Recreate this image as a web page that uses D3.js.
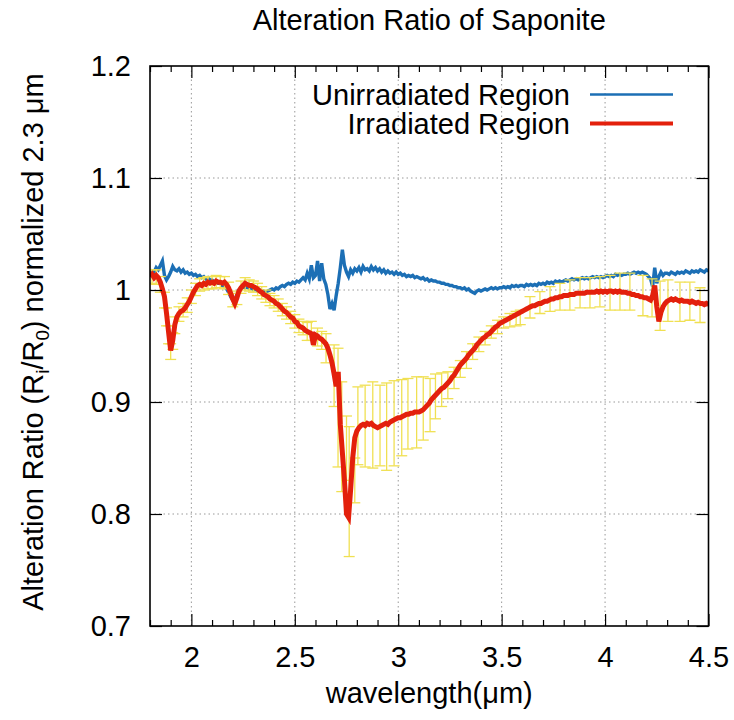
<!DOCTYPE html>
<html><head><meta charset="utf-8">
<script src="https://cdn.jsdelivr.net/npm/d3@7"></script>
<style>body{margin:0;background:#fff} text{font-family:"Liberation Sans",Arial,Helvetica,sans-serif;fill:#000}</style>
</head><body><svg id="chart" width="734" height="720"></svg>
<script>
const wavelength = [
1.80,1.81,1.82,1.83,1.84,1.85,1.86,1.87,1.88,1.89,
1.90,1.91,1.92,1.93,1.94,1.95,1.96,1.97,1.98,1.99,
2.00,2.01,2.02,2.03,2.04,2.05,2.06,2.07,2.08,2.09,
2.10,2.11,2.12,2.13,2.14,2.15,2.16,2.17,2.18,2.19,
2.20,2.21,2.22,2.23,2.24,2.25,2.26,2.27,2.28,2.29,
2.30,2.31,2.32,2.33,2.34,2.35,2.36,2.37,2.38,2.39,
2.40,2.41,2.42,2.43,2.44,2.45,2.46,2.47,2.48,2.49,
2.50,2.51,2.52,2.53,2.54,2.55,2.56,2.57,2.58,2.59,
2.60,2.61,2.62,2.63,2.64,2.65,2.66,2.67,2.68,2.69,
2.70,2.71,2.72,2.73,2.74,2.75,2.76,2.77,2.78,2.79,
2.80,2.81,2.82,2.83,2.84,2.85,2.86,2.87,2.88,2.89,
2.90,2.91,2.92,2.93,2.94,2.95,2.96,2.97,2.98,2.99,
3.00,3.01,3.02,3.03,3.04,3.05,3.06,3.07,3.08,3.09,
3.10,3.11,3.12,3.13,3.14,3.15,3.16,3.17,3.18,3.19,
3.20,3.21,3.22,3.23,3.24,3.25,3.26,3.27,3.28,3.29,
3.30,3.31,3.32,3.33,3.34,3.35,3.36,3.37,3.38,3.39,
3.40,3.41,3.42,3.43,3.44,3.45,3.46,3.47,3.48,3.49,
3.50,3.51,3.52,3.53,3.54,3.55,3.56,3.57,3.58,3.59,
3.60,3.61,3.62,3.63,3.64,3.65,3.66,3.67,3.68,3.69,
3.70,3.71,3.72,3.73,3.74,3.75,3.76,3.77,3.78,3.79,
3.80,3.81,3.82,3.83,3.84,3.85,3.86,3.87,3.88,3.89,
3.90,3.91,3.92,3.93,3.94,3.95,3.96,3.97,3.98,3.99,
4.00,4.01,4.02,4.03,4.04,4.05,4.06,4.07,4.08,4.09,
4.10,4.11,4.12,4.13,4.14,4.15,4.16,4.17,4.18,4.19,
4.20,4.21,4.22,4.23,4.24,4.25,4.26,4.27,4.28,4.29,
4.30,4.31,4.32,4.33,4.34,4.35,4.36,4.37,4.38,4.39,
4.40,4.41,4.42,4.43,4.44,4.45,4.46,4.47,4.48,4.49,
4.50];

const unirradiated = [
1.015,1.017,1.016,1.020,1.018,1.022,1.026,1.013,1.009,1.012,
1.016,1.021,1.018,1.017,1.019,1.016,1.018,1.015,1.016,1.014,
1.015,1.013,1.014,1.012,1.013,1.011,1.012,1.010,1.011,1.009,
1.009,1.007,1.008,1.006,1.006,1.004,1.003,1.001,0.998,0.994,
0.991,0.990,0.996,1.000,1.002,1.003,1.002,1.003,1.001,1.002,
1.000,1.001,0.999,1.000,0.998,0.999,0.998,0.999,1.000,1.001,
1.000,1.002,1.001,1.003,1.004,1.003,1.005,1.006,1.005,1.007,
1.006,1.008,1.007,1.009,1.011,1.009,1.015,1.010,1.022,1.011,
1.013,1.026,1.008,1.024,1.010,1.005,0.996,0.983,0.988,0.982,
0.995,1.006,1.020,1.036,1.022,1.016,1.012,1.018,1.015,1.019,
1.017,1.020,1.016,1.021,1.018,1.019,1.017,1.021,1.018,1.020,
1.017,1.019,1.016,1.018,1.015,1.017,1.015,1.016,1.014,1.016,
1.014,1.015,1.013,1.014,1.012,1.013,1.012,1.013,1.011,1.012,
1.011,1.010,1.011,1.009,1.010,1.008,1.009,1.008,1.008,1.007,
1.007,1.006,1.006,1.005,1.005,1.004,1.004,1.003,1.003,1.002,
1.002,1.001,1.002,1.000,1.001,0.999,0.998,0.997,0.999,1.000,
0.999,1.000,1.001,1.000,1.001,1.002,1.001,1.002,1.001,1.002,
1.002,1.003,1.002,1.003,1.002,1.004,1.003,1.004,1.003,1.004,
1.004,1.003,1.005,1.004,1.005,1.004,1.005,1.004,1.006,1.005,
1.006,1.005,1.007,1.006,1.007,1.006,1.008,1.007,1.008,1.007,
1.008,1.009,1.008,1.009,1.010,1.009,1.010,1.009,1.010,1.011,
1.010,1.011,1.010,1.011,1.012,1.011,1.012,1.011,1.012,1.011,
1.012,1.013,1.012,1.013,1.012,1.014,1.013,1.014,1.013,1.014,
1.014,1.015,1.014,1.015,1.016,1.015,1.016,1.015,1.016,1.015,
1.014,1.012,1.010,1.003,1.020,1.006,1.012,1.016,1.013,1.015,
1.015,1.014,1.016,1.015,1.014,1.016,1.015,1.016,1.015,1.017,
1.016,1.015,1.017,1.016,1.017,1.016,1.018,1.017,1.016,1.018,
1.017];

const irradiated = [
1.012,1.014,1.011,1.013,1.011,1.007,1.001,0.994,0.979,0.962,
0.946,0.955,0.969,0.976,0.979,0.981,0.982,0.984,0.987,0.990,
0.994,0.998,1.001,1.004,1.005,1.004,1.006,1.005,1.007,1.006,
1.007,1.006,1.008,1.007,1.007,1.006,1.007,1.005,1.002,0.997,
0.992,0.988,0.993,0.999,1.002,1.004,1.006,1.005,1.004,1.004,
1.003,1.002,1.001,0.999,0.998,0.996,0.995,0.994,0.992,0.991,
0.990,0.988,0.987,0.985,0.983,0.981,0.980,0.978,0.976,0.975,
0.972,0.971,0.968,0.967,0.966,0.964,0.963,0.962,0.961,0.951,
0.960,0.959,0.957,0.956,0.954,0.952,0.948,0.942,0.935,0.925,
0.914,0.927,0.880,0.855,0.830,0.800,0.797,0.822,0.850,0.868,
0.874,0.877,0.879,0.880,0.879,0.881,0.880,0.881,0.879,0.878,
0.877,0.878,0.879,0.880,0.881,0.880,0.882,0.883,0.884,0.885,
0.886,0.886,0.887,0.888,0.889,0.889,0.890,0.890,0.891,0.891,
0.891,0.892,0.893,0.895,0.897,0.899,0.902,0.904,0.906,0.908,
0.910,0.912,0.913,0.915,0.917,0.919,0.922,0.924,0.927,0.930,
0.933,0.935,0.937,0.939,0.942,0.944,0.946,0.948,0.951,0.953,
0.955,0.957,0.958,0.960,0.961,0.963,0.965,0.967,0.968,0.970,
0.971,0.972,0.973,0.974,0.975,0.976,0.977,0.978,0.979,0.980,
0.981,0.982,0.983,0.984,0.985,0.986,0.986,0.987,0.988,0.988,
0.989,0.990,0.990,0.991,0.992,0.992,0.993,0.993,0.994,0.994,
0.995,0.995,0.995,0.996,0.996,0.996,0.997,0.997,0.997,0.997,
0.997,0.998,0.998,0.998,0.998,0.998,0.999,0.998,0.999,0.998,
0.999,0.998,0.999,0.999,0.998,0.999,0.998,0.999,0.998,0.998,
0.998,0.997,0.997,0.996,0.996,0.995,0.995,0.994,0.994,0.993,
0.993,0.992,0.991,0.995,1.004,0.985,0.972,0.980,0.985,0.988,
0.990,0.991,0.992,0.991,0.992,0.991,0.990,0.991,0.990,0.990,
0.990,0.989,0.990,0.989,0.988,0.989,0.988,0.988,0.987,0.988,
0.987];

const errWavelength = [
1.81,1.83,1.85,1.87,1.88,1.89,1.90,1.91,1.92,1.94,1.96,1.98,
2.00,2.02,2.04,2.06,2.08,2.10,2.12,2.14,2.16,2.18,2.20,2.22,2.24,2.26,2.28,
2.30,2.32,2.34,2.36,2.38,2.40,2.42,2.44,2.46,2.48,2.50,2.52,2.54,2.56,2.58,
2.61,2.63,2.651,2.690,2.709,2.727,2.750,2.763,2.790,
2.805,2.840,2.877,2.912,2.944,2.980,3.017,3.047,3.089,3.121,3.154,
3.18,3.21,3.24,3.27,3.30,3.33,3.36,3.39,3.42,3.45,3.48,3.51,3.54,3.57,3.59,
3.637,3.685,3.734,3.782,3.83,3.879,3.927,3.975,4.024,4.072,4.12,4.183,4.227,
4.266,4.304,4.362,4.41,4.459];
const errLow = [
1.006,1.005,0.998,0.984,0.968,0.952,0.938,0.947,0.961,0.972,0.976,0.980,
0.988,0.995,0.999,1.000,1.001,1.001,1.002,1.002,1.001,0.996,0.985,0.987,0.997,1.000,0.999,
0.998,0.995,0.992,0.989,0.986,0.984,0.981,0.977,0.974,0.970,0.966,0.962,0.960,0.955,0.955,
0.950,0.947,0.935,0.896,0.842,0.820,0.830,0.762,0.810,
0.844,0.842,0.841,0.843,0.839,0.843,0.852,0.858,0.859,0.866,0.8735,
0.885,0.896,0.903,0.912,0.922,0.930,0.938,0.945,0.951,0.957,0.961,0.966,0.967,0.968,0.969,
0.975,0.979,0.981,0.982,0.982,0.984,0.984,0.985,0.982,0.982,0.982,0.977,0.976,
0.964,0.972,0.972,0.973,0.971];
const errHigh = [
1.018,1.018,1.012,0.998,0.984,0.968,0.952,0.962,0.976,0.985,0.988,0.993,
1.000,1.006,1.010,1.011,1.012,1.012,1.013,1.012,1.012,1.007,0.997,0.999,1.008,1.011,1.009,
1.008,1.006,1.003,1.000,0.997,0.995,0.992,0.988,0.985,0.981,0.978,0.974,0.972,0.971,0.972,
0.966,0.963,0.961,0.951,0.948,0.918,0.8875,0.878,0.850,
0.9135,0.915,0.918,0.915,0.917,0.919,0.920,0.921,0.9225,0.9225,0.921,
0.925,0.926,0.927,0.931,0.937,0.945,0.952,0.958,0.963,0.968,0.973,0.976,0.979,0.981,0.982,
0.994,0.9985,1.003,1.006,1.009,1.011,1.011,1.012,1.013,1.015,1.015,1.013,1.010,
1.008,1.009,1.007,1.007,1.002];

const xMajorTicks = [2, 2.5, 3, 3.5, 4, 4.5];
const xTickLabels = ["2", "2.5", "3", "3.5", "4", "4.5"];
const xMinorTicks = [1.8,1.9,2.1,2.2,2.3,2.4,2.6,2.7,2.8,2.9,3.1,3.2,3.3,3.4,3.6,3.7,3.8,3.9,4.1,4.2,4.3,4.4];
const yTicks = [0.7, 0.8, 0.9, 1.0, 1.1, 1.2];
const yTickLabels = ["0.7", "0.8", "0.9", "1", "1.1", "1.2"];
const seriesNames = ["Unirradiated Region", "Irradiated Region"];
const seriesColors = ["#1c6fb5", "#e3200c"];
const errColor = "#f0e052";

const W = 734, H = 720;
const m = {left: 150, top: 66, right: 25.5, bottom: 94};
const iw = W - m.left - m.right, ih = H - m.top - m.bottom;
const FS = 29;

const svg = d3.select("#chart");
const g = svg.append("g").attr("transform", `translate(${m.left},${m.top})`);
const x = d3.scaleLinear().domain([1.8, 4.5]).range([0, iw]);
const y = d3.scaleLinear().domain([0.7, 1.2]).range([ih, 0]);

svg.append("defs").append("clipPath").attr("id", "clip")
  .append("rect").attr("width", iw).attr("height", ih);

// grid
const grid = g.append("g").attr("stroke", "#999").attr("stroke-width", 1).attr("stroke-dasharray", "1.5,3");
grid.selectAll("line.gx").data(xMajorTicks.filter(d => d < 4.5)).join("line")
  .attr("x1", d => x(d)).attr("x2", d => x(d)).attr("y1", 0).attr("y2", ih);
grid.selectAll("line.gy").data(yTicks.filter(d => d > 0.7 && d < 1.2)).join("line")
  .attr("x1", 0).attr("x2", iw).attr("y1", d => y(d)).attr("y2", d => y(d));

const plot = g.append("g").attr("clip-path", "url(#clip)");

const blueData = wavelength.map((w, i) => [w, unirradiated[i]]).filter(d => d[1] !== undefined);
const redData = wavelength.map((w, i) => [w, irradiated[i]]).filter(d => d[1] !== undefined);
const line = d3.line().x(d => x(d[0])).y(d => y(d[1]));

plot.append("path").datum(blueData).attr("d", line)
  .attr("fill", "none").attr("stroke", seriesColors[0]).attr("stroke-width", 3.4).attr("stroke-linejoin", "miter");

// error bars
const errData = errWavelength.map((w, i) => ({w, lo: errLow[i], hi: errHigh[i]}));
const eb = plot.append("g").attr("stroke", errColor).attr("stroke-width", 1.3);
const cap = 5.5;
errData.forEach(d => {
  eb.append("line").attr("x1", x(d.w)).attr("x2", x(d.w)).attr("y1", y(d.lo)).attr("y2", y(d.hi));
  eb.append("line").attr("x1", x(d.w) - cap).attr("x2", x(d.w) + cap).attr("y1", y(d.lo)).attr("y2", y(d.lo));
  eb.append("line").attr("x1", x(d.w) - cap).attr("x2", x(d.w) + cap).attr("y1", y(d.hi)).attr("y2", y(d.hi));
});

plot.append("path").datum(redData).attr("d", line)
  .attr("fill", "none").attr("stroke", seriesColors[1]).attr("stroke-width", 5).attr("stroke-linejoin", "miter");

// axes
function styleAxis(sel) {
  sel.select(".domain").remove();
  sel.selectAll(".tick line").attr("stroke", "#000").attr("stroke-width", 1.2);
  sel.selectAll("text").attr("font-size", FS).attr("fill", "#000")
    .attr("font-family", '"Liberation Sans", Arial, sans-serif');
}
g.append("g").attr("transform", `translate(0,${ih})`)
  .call(d3.axisBottom(x).tickValues(xMajorTicks).tickFormat((d, i) => xTickLabels[i]).tickSizeInner(-12).tickSizeOuter(0).tickPadding(20))
  .call(styleAxis);
g.append("g").attr("transform", `translate(0,${ih})`)
  .call(d3.axisBottom(x).tickValues(xMinorTicks).tickFormat("").tickSizeInner(-6).tickSizeOuter(0))
  .call(styleAxis);
g.append("g")
  .call(d3.axisTop(x).tickValues(xMajorTicks).tickFormat("").tickSizeInner(-12).tickSizeOuter(0))
  .call(styleAxis);
g.append("g")
  .call(d3.axisTop(x).tickValues(xMinorTicks).tickFormat("").tickSizeInner(-6).tickSizeOuter(0))
  .call(styleAxis);
g.append("g")
  .call(d3.axisLeft(y).tickValues(yTicks).tickFormat((d, i) => yTickLabels[i]).tickSizeInner(-12).tickSizeOuter(0).tickPadding(19))
  .call(styleAxis);
g.append("g").attr("transform", `translate(${iw},0)`)
  .call(d3.axisRight(y).tickValues(yTicks).tickFormat("").tickSizeInner(-12).tickSizeOuter(0))
  .call(styleAxis);

// frame
g.append("rect").attr("width", iw).attr("height", ih).attr("fill", "none")
  .attr("stroke", "#000").attr("stroke-width", 1.6);

// title
svg.append("text").attr("x", m.left + iw / 2).attr("y", 30).attr("text-anchor", "middle")
  .attr("font-size", FS).text("Alteration Ratio of Saponite");

// x label
svg.append("text").attr("x", m.left + iw / 2).attr("y", 703).attr("text-anchor", "middle")
  .attr("font-size", FS).text("wavelength(μm)");

// y label
const yl = svg.append("text").attr("transform", `translate(43,${m.top + ih / 2 - 4}) rotate(-90)`)
  .attr("text-anchor", "middle").attr("font-size", FS);
yl.append("tspan").text("Alteration Ratio (R");
yl.append("tspan").attr("font-size", FS * 0.65).attr("dy", 6).text("i");
yl.append("tspan").attr("dy", -6).text("/R");
yl.append("tspan").attr("font-size", FS * 0.65).attr("dy", 6).text("0");
yl.append("tspan").attr("dy", -6).text(") normalized 2.3 μm");

// legend
const legY = [105, 134];
const legLineY = [94.5, 123.5];
const legW = [2.6, 4];
seriesNames.forEach((name, i) => {
  svg.append("text").attr("x", 570).attr("y", legY[i]).attr("text-anchor", "end")
    .attr("font-size", FS).text(name);
  svg.append("line").attr("x1", 590).attr("x2", 673).attr("y1", legLineY[i]).attr("y2", legLineY[i])
    .attr("stroke", seriesColors[i]).attr("stroke-width", legW[i]);
});
</script></body></html>
